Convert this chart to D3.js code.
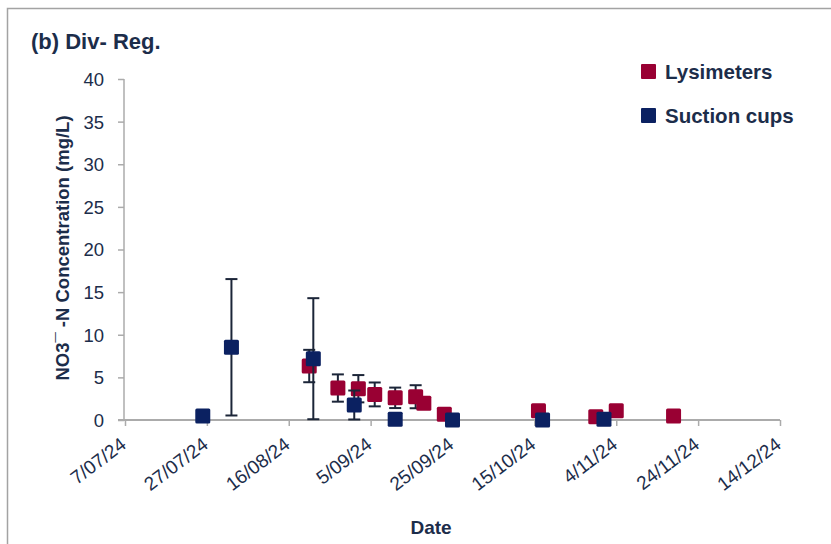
<!DOCTYPE html>
<html>
<head>
<meta charset="utf-8">
<script src="https://cdn.jsdelivr.net/npm/d3@7/dist/d3.min.js"></script>
<style>
  html, body { margin: 0; padding: 0; background: #ffffff; }
  svg { display: block; }
  text { font-family: "Liberation Sans", Arial, sans-serif; fill: #1c2d4a; }
</style>
</head>
<body>
<svg id="chart" width="831" height="544"></svg>
<script>
// ---- Data ----
const xTickLabels = ["7/07/24", "27/07/24", "16/08/24", "5/09/24", "25/09/24", "15/10/24", "4/11/24", "24/11/24", "14/12/24"];
const yTicks = [0, 5, 10, 15, 20, 25, 30, 35, 40];
const seriesNames = ["Lysimeters", "Suction cups"];

const lysDates  = ["2024-08-21", "2024-08-28", "2024-09-02", "2024-09-06", "2024-09-11", "2024-09-16", "2024-09-18", "2024-09-23", "2024-10-16", "2024-10-30", "2024-11-04", "2024-11-18"];
const lysValues = [6.33, 3.75, 3.67, 3.0, 2.6, 2.73, 1.96, 0.67, 1.09, 0.39, 1.09, 0.47];
const lysErrors = [1.9, 1.6, 1.6, 1.4, 1.2, 1.35, 0, 0, 0, 0, 0, 0];

const sucDates  = ["2024-07-26", "2024-08-02", "2024-08-22", "2024-09-01", "2024-09-11", "2024-09-25", "2024-10-17", "2024-11-01"];
const sucValues = [0.47, 8.53, 7.19, 1.76, 0.1, 0.0, 0.0, 0.1];
const sucErrors = [0, 8.0, 7.1, 1.7, 0, 0, 0, 0];

// ---- Setup ----
const svg = d3.select("#chart");
const colors = { "Lysimeters": "#990033", "Suction cups": "#0b2161" };
const errColor = "#1b2538";
const axisColor = "#ababab";

const parseISO = d3.timeParse("%Y-%m-%d");
const parseTick = d3.timeParse("%d/%m/%y");
const tickDates = xTickLabels.map(parseTick);

const x = d3.scaleTime()
  .domain([tickDates[0], tickDates[tickDates.length - 1]])
  .range([125, 780]);
const y = d3.scaleLinear().domain([0, 40]).range([420, 79]);

// outer border
svg.append("rect")
  .attr("x", 7.5).attr("y", 8.5)
  .attr("width", 860).attr("height", 560)
  .attr("fill", "none").attr("stroke", "#a3a3a3").attr("stroke-width", 1.5);

// title
svg.append("text")
  .attr("x", 31).attr("y", 49)
  .attr("font-size", 22).attr("font-weight", "bold")
  .text("(b) Div- Reg.");

// Y axis
const yAxis = d3.axisLeft(y).tickValues(yTicks).tickSize(6).tickPadding(14).tickFormat(d3.format("d"));
const gy = svg.append("g").attr("transform", "translate(124,0)").call(yAxis);
gy.select(".domain").attr("stroke", axisColor).attr("stroke-width", 1.5).attr("d", "M0," + y(40) + "V" + y(0));
gy.selectAll(".tick line").attr("stroke", axisColor).attr("stroke-width", 1.5);
gy.selectAll(".tick text")
  .attr("font-size", 18.5).attr("font-family", "Liberation Sans, Arial, sans-serif")
  .attr("fill", "#1c2d4a").attr("dy", "0.35em");

// X axis
const xAxis = d3.axisBottom(x).tickValues(tickDates).tickSize(6).tickFormat((d, i) => xTickLabels[i]);
const gx = svg.append("g").attr("transform", "translate(0," + y(0) + ")").call(xAxis);
gx.select(".domain").attr("stroke", axisColor).attr("stroke-width", 2).attr("d", "M118,0H" + x(tickDates[tickDates.length - 1]));
gx.selectAll(".tick line").attr("stroke", axisColor).attr("stroke-width", 1.5);
gx.selectAll(".tick text")
  .attr("font-size", 19).attr("font-family", "Liberation Sans, Arial, sans-serif")
  .attr("fill", "#1c2d4a")
  .attr("text-anchor", "end")
  .attr("dy", null)
  .attr("y", null)
  .attr("transform", "translate(2,27) rotate(-37)");

// axis titles
svg.append("text")
  .attr("transform", "translate(69,248) rotate(-90)")
  .attr("text-anchor", "middle")
  .attr("font-size", 18.5).attr("font-weight", "bold")
  .text("NO3\u00AF -N Concentration (mg/L)");

svg.append("text")
  .attr("x", 431).attr("y", 534)
  .attr("text-anchor", "middle")
  .attr("font-size", 19).attr("font-weight", "bold")
  .text("Date");

// ---- Series ----
const series = [
  { name: "Lysimeters", data: lysDates.map((d, i) => ({ date: parseISO(d), v: lysValues[i], e: lysErrors[i] })) },
  { name: "Suction cups", data: sucDates.map((d, i) => ({ date: parseISO(d), v: sucValues[i], e: sucErrors[i] })) }
];
const M = 15; // marker size
const cap = 6;

series.forEach(s => {
  const g = svg.append("g").attr("class", "series");
  const withErr = s.data.filter(d => d.e > 0);
  const eb = g.selectAll("g.err").data(withErr).enter().append("g").attr("class", "err")
    .attr("stroke", errColor).attr("stroke-width", 2);
  eb.append("line")
    .attr("x1", d => x(d.date)).attr("x2", d => x(d.date))
    .attr("y1", d => y(Math.max(0, d.v - d.e))).attr("y2", d => y(d.v + d.e));
  eb.append("line")
    .attr("x1", d => x(d.date) - cap).attr("x2", d => x(d.date) + cap)
    .attr("y1", d => y(d.v + d.e)).attr("y2", d => y(d.v + d.e));
  eb.append("line")
    .attr("x1", d => x(d.date) - cap).attr("x2", d => x(d.date) + cap)
    .attr("y1", d => y(Math.max(0, d.v - d.e))).attr("y2", d => y(Math.max(0, d.v - d.e)));

  g.selectAll("rect.pt").data(s.data).enter().append("rect").attr("class", "pt")
    .attr("x", d => x(d.date) - M / 2).attr("y", d => y(d.v) - M / 2)
    .attr("width", M).attr("height", M).attr("rx", 1.5)
    .attr("fill", colors[s.name]);
});

// ---- Legend ----
const legend = svg.append("g");
seriesNames.forEach((n, i) => {
  const ly = 64 + i * 44;
  legend.append("rect").attr("x", 641).attr("y", ly).attr("width", 15).attr("height", 15).attr("rx", 1)
    .attr("fill", colors[n]);
  legend.append("text").attr("x", 665).attr("y", ly + 14.5)
    .attr("font-size", 20.5).attr("font-weight", "bold").text(n);
});
</script>
</body>
</html>
